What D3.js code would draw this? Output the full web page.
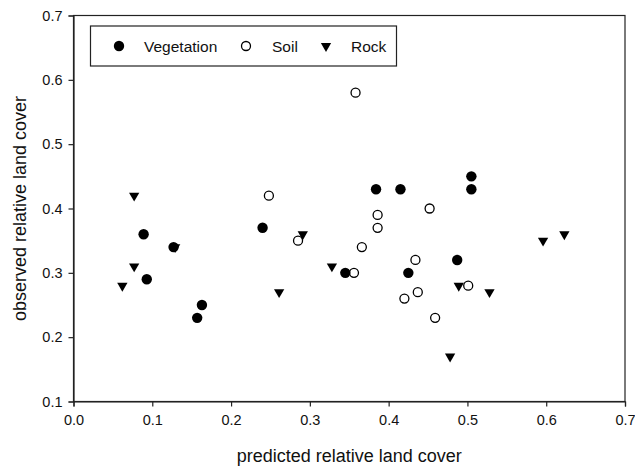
<!DOCTYPE html>
<html>
<head>
<meta charset="utf-8">
<script src="https://cdn.jsdelivr.net/npm/d3@7"></script>
<style>
  html, body { margin: 0; padding: 0; background: #fff; }
  svg { display: block; font-family: "Liberation Sans", Arial, sans-serif; }
</style>
</head>
<body>
<svg id="chart" width="635" height="466"></svg>
<script>
// ---- data ----
const vegX = [0.089, 0.093, 0.127, 0.157, 0.163, 0.240, 0.345, 0.384, 0.415, 0.425, 0.487, 0.505, 0.505];
const vegY = [0.36, 0.29, 0.34, 0.23, 0.25, 0.37, 0.30, 0.43, 0.43, 0.30, 0.32, 0.45, 0.43];

const soilX = [0.248, 0.285, 0.356, 0.358, 0.366, 0.386, 0.386, 0.420, 0.434, 0.437, 0.452, 0.459, 0.501];
const soilY = [0.42, 0.35, 0.30, 0.58, 0.34, 0.39, 0.37, 0.26, 0.32, 0.27, 0.40, 0.23, 0.28];

const rockX = [0.062, 0.077, 0.077, 0.129, 0.261, 0.291, 0.328, 0.478, 0.489, 0.528, 0.596, 0.623];
const rockY = [0.28, 0.31, 0.42, 0.34, 0.27, 0.36, 0.31, 0.17, 0.28, 0.27, 0.35, 0.36];

const xTicks = [0.0, 0.1, 0.2, 0.3, 0.4, 0.5, 0.6, 0.7];
const yTicks = [0.1, 0.2, 0.3, 0.4, 0.5, 0.6, 0.7];
const seriesNames = ["Vegetation", "Soil", "Rock"];
const xTitle = "predicted relative land cover";
const yTitle = "observed relative land cover";

// ---- layout ----
const svg = d3.select("#chart");
const L = 73.5, T = 15.5, R = 625, B = 401.5;
const x = d3.scaleLinear().domain([0, 0.7]).range([L, R]);
const y = d3.scaleLinear().domain([0.1, 0.7]).range([B, T]);
const ink = "#222";

// frame
svg.append("rect").attr("x", L).attr("y", T).attr("width", R - L).attr("height", B - T)
  .attr("fill", "none").attr("stroke", ink).attr("stroke-width", 1.2);

// axes
const xAxis = svg.append("g").attr("transform", `translate(0,${B})`)
  .call(d3.axisBottom(x).tickValues(xTicks).tickFormat(d3.format(".1f")).tickSize(5).tickPadding(8));
const yAxis = svg.append("g").attr("transform", `translate(${L},0)`)
  .call(d3.axisLeft(y).tickValues(yTicks).tickFormat(d3.format(".1f")).tickSize(5).tickPadding(6));
[xAxis, yAxis].forEach(g => {
  g.select(".domain").attr("stroke", ink).attr("stroke-width", 1.2);
  g.selectAll(".tick line").attr("stroke", ink).attr("stroke-width", 1.2);
  g.selectAll(".tick text").attr("fill", "#111").attr("font-size", 14.5)
    .attr("font-family", "'Liberation Sans', Arial, sans-serif");
});

// titles
svg.append("text").attr("x", (L + R) / 2).attr("y", 462).attr("text-anchor", "middle")
  .attr("font-size", 18).attr("fill", "#111").text(xTitle);
svg.append("text").attr("transform", `translate(26,${(T + B) / 2}) rotate(-90)`)
  .attr("text-anchor", "middle").attr("font-size", 18).attr("fill", "#111").text(yTitle);

// markers
const tri = d3.symbol().type(d3.symbolTriangle).size(46);
function drawRock(g, cx, cy) {
  g.append("path").attr("d", tri).attr("transform", `translate(${cx},${cy}) rotate(180)`)
    .attr("fill", "#000");
}
function drawVeg(g, cx, cy) {
  g.append("circle").attr("cx", cx).attr("cy", cy).attr("r", 5.2).attr("fill", "#000");
}
function drawSoil(g, cx, cy) {
  g.append("circle").attr("cx", cx).attr("cy", cy).attr("r", 4.5)
    .attr("fill", "#fff").attr("stroke", "#000").attr("stroke-width", 1.3);
}

const pts = svg.append("g");
soilX.forEach((v, i) => drawSoil(pts, x(v), y(soilY[i])));
rockX.forEach((v, i) => drawRock(pts, x(v), y(rockY[i])));
vegX.forEach((v, i) => drawVeg(pts, x(v), y(vegY[i])));

// legend
const lg = svg.append("g");
lg.append("rect").attr("x", 90.5).attr("y", 26).attr("width", 306).attr("height", 40)
  .attr("fill", "#fff").attr("stroke", ink).attr("stroke-width", 1.2);
const ly = 46;
const items = [
  { name: seriesNames[0], mx: 119, tx: 144, draw: drawVeg },
  { name: seriesNames[1], mx: 246, tx: 272, draw: drawSoil },
  { name: seriesNames[2], mx: 326, tx: 351, draw: drawRock }
];
items.forEach(it => {
  it.draw(lg, it.mx, ly);
  lg.append("text").attr("x", it.tx).attr("y", ly + 5.5).attr("font-size", 15.5)
    .attr("fill", "#111").text(it.name);
});
</script>
</body>
</html>
